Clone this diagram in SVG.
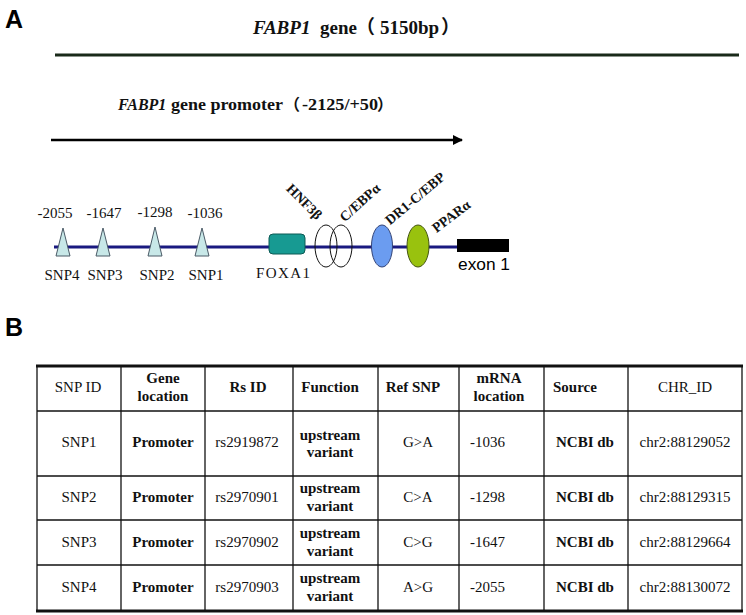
<svg xmlns="http://www.w3.org/2000/svg" width="746" height="615" viewBox="0 0 746 615">
<defs>
<style>
.s{font-family:"Liberation Serif","Times New Roman",serif;fill:#111}
.b{font-weight:bold}
.i{font-style:italic}
.p{font-family:"Liberation Sans",Arial,sans-serif;fill:#000}
.t{font-size:15px;text-anchor:middle}
.thin{stroke:#111;stroke-width:1.3;fill:none}
.thick{stroke:#111;stroke-width:2.8;fill:none}
.tri{fill:#c8e8e8;stroke:#4a5a66;stroke-width:1}
</style>
<marker id="ah" viewBox="0 0 10 10" refX="9" refY="5" markerWidth="4" markerHeight="4" orient="auto" markerUnits="strokeWidth">
<path d="M0,0 L10,5 L0,10 z" fill="#000"/>
</marker>
</defs>
<rect width="746" height="615" fill="#fff"/>

<text class="p b" x="5" y="28" font-size="25">A</text>
<text class="p b" x="5" y="336" font-size="25">B</text>

<g id="gene">
<line x1="55" y1="55" x2="739" y2="55" stroke="#1a2a1a" stroke-width="3"/>
<text class="s b" font-size="19" y="34"><tspan x="253" class="i">FABP1</tspan><tspan x="320">gene</tspan><tspan x="356" font-family="'Liberation Serif','Noto Sans CJK SC',serif">（</tspan><tspan x="380">5150bp</tspan><tspan x="441" font-family="'Liberation Serif','Noto Sans CJK SC',serif">）</tspan></text>
</g>

<g id="promoter">
<line x1="51" y1="140" x2="462" y2="140" stroke="#000" stroke-width="2.5" marker-end="url(#ah)"/>
<text class="s b" font-size="16" y="110"><tspan x="118" class="i">FABP1</tspan><tspan x="171" textLength="112" lengthAdjust="spacingAndGlyphs">gene promoter</tspan><tspan x="284" font-family="'Liberation Serif','Noto Sans CJK SC',serif">（</tspan><tspan x="302" textLength="76" lengthAdjust="spacingAndGlyphs">-2125/+50</tspan><tspan x="377" font-family="'Liberation Serif','Noto Sans CJK SC',serif">）</tspan></text>
</g>

<g id="connectors">
<line x1="54" y1="247" x2="460" y2="247" stroke="#1a1a80" stroke-width="3"/>
</g>

<g id="snp4">
<polygon class="tri" points="63,228 56,256 70,256"/>
<text class="s t" x="55" y="218">-2055</text>
<text class="s t" x="62" y="280">SNP4</text>
</g>
<g id="snp3">
<polygon class="tri" points="103,228 96,256 110,256"/>
<text class="s t" x="104" y="218">-1647</text>
<text class="s t" x="105" y="280">SNP3</text>
</g>
<g id="snp2">
<polygon class="tri" points="155,227 148,256 162,256"/>
<text class="s t" x="155" y="217">-1298</text>
<text class="s t" x="157" y="280">SNP2</text>
</g>
<g id="snp1">
<polygon class="tri" points="202,228 195,256 209,256"/>
<text class="s t" x="205" y="218">-1036</text>
<text class="s t" x="206" y="280">SNP1</text>
</g>

<g id="foxa1">
<rect x="269" y="234" width="36" height="20" rx="4" fill="#179a92" stroke="#0d5a55" stroke-width="1"/>
<text class="s" font-size="15" x="256" y="278" textLength="54" lengthAdjust="spacing">FOXA1</text>
</g>
<g id="hnf3b">
<ellipse cx="326" cy="246" rx="11" ry="21" fill="none" stroke="#111" stroke-width="1"/>
<text class="s b" font-size="14" text-anchor="middle" transform="translate(301,205) rotate(45)">HNF3β</text>
</g>
<g id="cebpa">
<ellipse cx="341" cy="246" rx="11" ry="21" fill="none" stroke="#111" stroke-width="1"/>
<text class="s b" font-size="14" text-anchor="middle" transform="translate(363,206) rotate(-42)">C/EBPα</text>
</g>
<g id="dr1">
<ellipse cx="382" cy="246" rx="10.5" ry="21" fill="#6b9cf0" stroke="#334477" stroke-width="1"/>
<text class="s b" font-size="14" text-anchor="middle" transform="translate(418,202) rotate(-40)">DR1-C/EBP</text>
</g>
<g id="ppara">
<ellipse cx="418" cy="246" rx="11" ry="21" fill="#99c20e" stroke="#445511" stroke-width="1"/>
<text class="s b" font-size="14" text-anchor="middle" transform="translate(454,220) rotate(-37)">PPARα</text>
</g>
<g id="exon1">
<rect x="457" y="239" width="52" height="13" fill="#000"/>
<text class="p" font-size="16" x="458" y="270" textLength="52" lengthAdjust="spacingAndGlyphs">exon 1</text>
</g>

<g id="table">
<line class="thick" x1="36" y1="366" x2="743" y2="366"/>
<line class="thick" x1="36" y1="611" x2="743" y2="611"/>
<line class="thin" x1="37" y1="411" x2="742" y2="411"/>
<line class="thin" x1="37" y1="476" x2="742" y2="476"/>
<line class="thin" x1="37" y1="520" x2="742" y2="520"/>
<line class="thin" x1="37" y1="565" x2="742" y2="565"/>
<line class="thin" x1="37" y1="366" x2="37" y2="611"/>
<line class="thin" x1="121" y1="366" x2="121" y2="611"/>
<line class="thin" x1="205" y1="366" x2="205" y2="611"/>
<line class="thin" x1="293" y1="366" x2="293" y2="611"/>
<line class="thin" x1="378" y1="366" x2="378" y2="611"/>
<line class="thin" x1="459" y1="366" x2="459" y2="611"/>
<line class="thin" x1="544" y1="366" x2="544" y2="611"/>
<line class="thin" x1="628" y1="366" x2="628" y2="611"/>
<line class="thin" x1="742" y1="366" x2="742" y2="611"/>

<text class="s t" x="78" y="392">SNP ID</text>
<text class="s t b" x="163" y="383">Gene</text>
<text class="s t b" x="163" y="401">location</text>
<text class="s t b" x="248" y="392">Rs ID</text>
<text class="s t b" x="330" y="392">Function</text>
<text class="s t b" x="413" y="392">Ref SNP</text>
<text class="s t b" x="499" y="383">mRNA</text>
<text class="s t b" x="499" y="401">location</text>
<text class="s b" font-size="15" x="553" y="392">Source</text>
<text class="s t" x="685" y="392">CHR_ID</text>

<text class="s t" x="79" y="447">SNP1</text>
<text class="s t b" x="163" y="447">Promoter</text>
<text class="s t" x="247" y="447">rs2919872</text>
<text class="s t b" x="330" y="440">upstream</text>
<text class="s t b" x="330" y="457">variant</text>
<text class="s t" x="418" y="447">G&gt;A</text>
<text class="s" font-size="15" x="470" y="447">-1036</text>
<text class="s t b" x="585" y="447">NCBI db</text>
<text class="s t" x="685" y="447">chr2:88129052</text>

<text class="s t" x="79" y="502">SNP2</text>
<text class="s t b" x="163" y="502">Promoter</text>
<text class="s t" x="247" y="502">rs2970901</text>
<text class="s t b" x="330" y="493">upstream</text>
<text class="s t b" x="330" y="511">variant</text>
<text class="s t" x="418" y="502">C&gt;A</text>
<text class="s" font-size="15" x="470" y="502">-1298</text>
<text class="s t b" x="585" y="502">NCBI db</text>
<text class="s t" x="685" y="502">chr2:88129315</text>

<text class="s t" x="79" y="547">SNP3</text>
<text class="s t b" x="163" y="547">Promoter</text>
<text class="s t" x="247" y="547">rs2970902</text>
<text class="s t b" x="330" y="538">upstream</text>
<text class="s t b" x="330" y="556">variant</text>
<text class="s t" x="418" y="547">C&gt;G</text>
<text class="s" font-size="15" x="470" y="547">-1647</text>
<text class="s t b" x="585" y="547">NCBI db</text>
<text class="s t" x="685" y="547">chr2:88129664</text>

<text class="s t" x="79" y="592">SNP4</text>
<text class="s t b" x="163" y="592">Promoter</text>
<text class="s t" x="247" y="592">rs2970903</text>
<text class="s t b" x="330" y="583">upstream</text>
<text class="s t b" x="330" y="601">variant</text>
<text class="s t" x="418" y="592">A&gt;G</text>
<text class="s" font-size="15" x="470" y="592">-2055</text>
<text class="s t b" x="585" y="592">NCBI db</text>
<text class="s t" x="685" y="592">chr2:88130072</text>
</g>
</svg>
